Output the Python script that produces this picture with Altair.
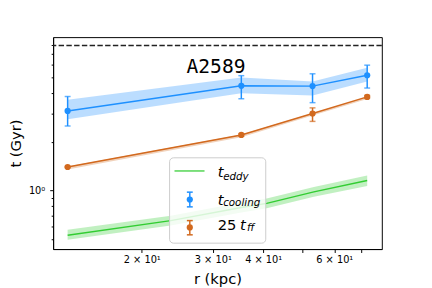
import altair as alt
import pandas as pd

# ---- data ----
r = [13.1, 35.3, 53.0, 72.4]
t_cool = [3.11, 4.45, 4.43, 5.17]
t_cool_err_lo = [2.51, 3.70, 3.50, 4.31]
t_cool_err_hi = [3.82, 5.14, 5.28, 5.97]
t_cool_band_lo = [2.76, 4.00, 3.87, 4.73]
t_cool_band_hi = [3.65, 5.00, 4.73, 5.75]

t_ff = [1.40, 2.21, 3.00, 3.80]
t_ff_err_lo = [1.39, 2.17, 2.68, 3.72]
t_ff_err_hi = [1.41, 2.25, 3.25, 3.88]
t_ff_band_lo = [1.35, 2.14, 2.92, 3.69]
t_ff_band_hi = [1.41, 2.22, 3.01, 3.81]

r_eddy = [13.1, 23.6, 35.3, 40.8, 53.4, 72.4]
t_eddy = [0.53, 0.652, 0.786, 0.834, 0.982, 1.155]
t_eddy_lo = [0.497, 0.608, 0.733, 0.778, 0.916, 1.068]
t_eddy_hi = [0.572, 0.700, 0.843, 0.895, 1.054, 1.238]

t_max = [7.9]

x_ticks = [20, 30, 40, 50, 60, 70]
y_ticks = [0.5, 0.6, 0.7, 0.8, 0.9, 1, 2, 3, 4, 5, 6, 7, 8]

BLUE = "#1E90FF"
ORANGE = "#D2691E"
GREEN = "#32CD32"
FONT = "DejaVu Sans"

cool = pd.DataFrame(dict(r=r, t=t_cool, elo=t_cool_err_lo, ehi=t_cool_err_hi,
                         blo=t_cool_band_lo, bhi=t_cool_band_hi))
ff = pd.DataFrame(dict(r=r, t=t_ff, elo=t_ff_err_lo, ehi=t_ff_err_hi,
                       blo=t_ff_band_lo, bhi=t_ff_band_hi))
eddy = pd.DataFrame(dict(r=r_eddy, t=t_eddy, blo=t_eddy_lo, bhi=t_eddy_hi))
hline = pd.DataFrame(dict(t=t_max))

xscale = alt.Scale(type="log", domain=[12.06, 78.7], nice=False)
yscale = alt.Scale(type="log", domain=[0.435, 8.9], nice=False)

xaxis = alt.Axis(values=x_ticks, grid=False, tickSize=3.5, tickColor="black",
                 domainColor="black", labelColor="black", labelFont=FONT,
                 labelFontSize=10, labelPadding=2, title="r (kpc)",
                 titleFont=FONT, titleFontSize=15, titleFontWeight="normal",
                 titleColor="black", titlePadding=8,
                 labelExpr="datum.value == 20 ? '2 × 10¹' : datum.value == 30 ? '3 × 10¹' : "
                           "datum.value == 40 ? '4 × 10¹' : datum.value == 60 ? '6 × 10¹' : ''")
yaxis = alt.Axis(values=y_ticks, grid=False,
                 tickSize={"condition": {"test": "datum.value == 1", "value": 3.5}, "value": 2},
                 tickColor="black", domainColor="black", labelColor="black",
                 labelFont=FONT, labelFontSize=10, labelPadding=5,
                 title="t (Gyr)", titleFont=FONT, titleFontSize=15,
                 titleFontWeight="normal", titleColor="black", titlePadding=5.5,
                 labelExpr="datum.value == 1 ? '10⁰' : ''")


def X(f="r"):
    return alt.X(f, type="quantitative", scale=xscale, axis=xaxis, title="r (kpc)")


def Y(f="t"):
    return alt.Y(f, type="quantitative", scale=yscale, axis=yaxis, title="t (Gyr)")


def Y2(f):
    return alt.Y2(f)


dash = alt.Chart(hline).mark_rule(color="#222222", strokeWidth=1.5,
                                  strokeDash=[5.5, 2.4]).encode(y=Y("t"))

eddy_band = alt.Chart(eddy).mark_area(color=GREEN, opacity=0.3).encode(
    x=X(), y=Y("blo"), y2=Y2("bhi"))
eddy_line = alt.Chart(eddy).mark_line(color=GREEN, strokeWidth=1.5).encode(x=X(), y=Y())

cool_band = alt.Chart(cool).mark_area(color=BLUE, opacity=0.3).encode(
    x=X(), y=Y("blo"), y2=Y2("bhi"))
cool_line = alt.Chart(cool).mark_line(color=BLUE, strokeWidth=1.5).encode(x=X(), y=Y())
cool_err = alt.Chart(cool).mark_rule(color=BLUE, strokeWidth=1.5).encode(
    x=X(), y=Y("elo"), y2=Y2("ehi"))
cool_cap_lo = alt.Chart(cool).mark_tick(color=BLUE, orient="horizontal", size=6,
                                        thickness=1.5).encode(x=X(), y=Y("elo"))
cool_cap_hi = alt.Chart(cool).mark_tick(color=BLUE, orient="horizontal", size=6,
                                        thickness=1.5).encode(x=X(), y=Y("ehi"))
cool_pts = alt.Chart(cool).mark_circle(color=BLUE, size=40, opacity=1).encode(x=X(), y=Y())

ff_band = alt.Chart(ff).mark_area(color=ORANGE, opacity=0.3).encode(
    x=X(), y=Y("blo"), y2=Y2("bhi"))
ff_line = alt.Chart(ff).mark_line(color=ORANGE, strokeWidth=1.5).encode(x=X(), y=Y())
ff_err = alt.Chart(ff).mark_rule(color=ORANGE, strokeWidth=1.5).encode(
    x=X(), y=Y("elo"), y2=Y2("ehi"))
ff_cap_lo = alt.Chart(ff).mark_tick(color=ORANGE, orient="horizontal", size=6,
                                    thickness=1.5).encode(x=X(), y=Y("elo"))
ff_cap_hi = alt.Chart(ff).mark_tick(color=ORANGE, orient="horizontal", size=6,
                                    thickness=1.5).encode(x=X(), y=Y("ehi"))
ff_pts = alt.Chart(ff).mark_circle(color=ORANGE, size=40, opacity=1).encode(x=X(), y=Y())

# ---- decorations: title inside the plot and a hand-built legend ----
one = alt.Data(values=[{"k": 1}])

title = alt.Chart(one).mark_text(text="A2589", font="DejaVu Sans Mono", fontSize=20,
                                 align="center", baseline="alphabetic",
                                 color="black").encode(x=alt.value(166), y=alt.value(36.4))

leg_box = alt.Chart(one).mark_rect(fill="white", fillOpacity=0.8, stroke="#cccccc",
                                   strokeWidth=1, cornerRadius=4).encode(
    x=alt.value(118.7), x2=alt.value(216.7), y=alt.value(123), y2=alt.value(210))
leg_line = alt.Chart(one).mark_rule(color=GREEN, strokeWidth=1.5, opacity=0.85).encode(
    x=alt.value(123.7), x2=alt.value(154.3), y=alt.value(136.4))
leg_cool_bar = alt.Chart(one).mark_rule(color=BLUE, strokeWidth=1.5).encode(
    x=alt.value(139.3), y=alt.value(158), y2=alt.value(173))
leg_cool_c1 = alt.Chart(one).mark_rule(color=BLUE, strokeWidth=1.5).encode(
    x=alt.value(136.3), x2=alt.value(142.3), y=alt.value(158))
leg_cool_c2 = alt.Chart(one).mark_rule(color=BLUE, strokeWidth=1.5).encode(
    x=alt.value(136.3), x2=alt.value(142.3), y=alt.value(173))
leg_cool_pt = alt.Chart(one).mark_circle(color=BLUE, size=40, opacity=1).encode(
    x=alt.value(139.3), y=alt.value(165.5))
leg_ff_bar = alt.Chart(one).mark_rule(color=ORANGE, strokeWidth=1.5).encode(
    x=alt.value(139.3), y=alt.value(187), y2=alt.value(201.5))
leg_ff_c1 = alt.Chart(one).mark_rule(color=ORANGE, strokeWidth=1.5).encode(
    x=alt.value(136.3), x2=alt.value(142.3), y=alt.value(187))
leg_ff_c2 = alt.Chart(one).mark_rule(color=ORANGE, strokeWidth=1.5).encode(
    x=alt.value(136.3), x2=alt.value(142.3), y=alt.value(201.5))
leg_ff_pt = alt.Chart(one).mark_circle(color=ORANGE, size=40, opacity=1).encode(
    x=alt.value(139.3), y=alt.value(194))


def txt(s, x, y, size, italic=True):
    kw = dict(text=s, font=FONT, fontSize=size, align="left",
              baseline="alphabetic", color="black")
    if italic:
        kw["fontStyle"] = "italic"
    return alt.Chart(one).mark_text(**kw).encode(x=alt.value(x), y=alt.value(y))


leg_txt = [
    txt("t", 167.7, 142.8, 15), txt("eddy", 173.3, 145.2, 10.5),
    txt("t", 167.7, 170.8, 15), txt("cooling", 173.3, 172.3, 10.5),
    txt("25", 167.7, 196.5, 15, italic=False), txt("t", 190.5, 196.5, 15),
    txt("ff", 197.5, 198.0, 10.5),
]

chart = alt.layer(
    dash, eddy_band, eddy_line, cool_band, cool_line, cool_err, cool_cap_lo, cool_cap_hi,
    cool_pts, ff_band, ff_line, ff_err, ff_cap_lo, ff_cap_hi, ff_pts, title,
    leg_box, leg_line, leg_cool_bar, leg_cool_c1, leg_cool_c2, leg_cool_pt,
    leg_ff_bar, leg_ff_c1, leg_ff_c2, leg_ff_pt, *leg_txt
).properties(
    width=335, height=216,
    autosize=alt.AutoSizeParams(type="none"),
    padding={"left": 46, "top": 27, "right": 43, "bottom": 37},
    background="white",
).configure_view(stroke="black", strokeWidth=1)

chart.save("out.html", embed_options={"renderer": "svg", "actions": False})
